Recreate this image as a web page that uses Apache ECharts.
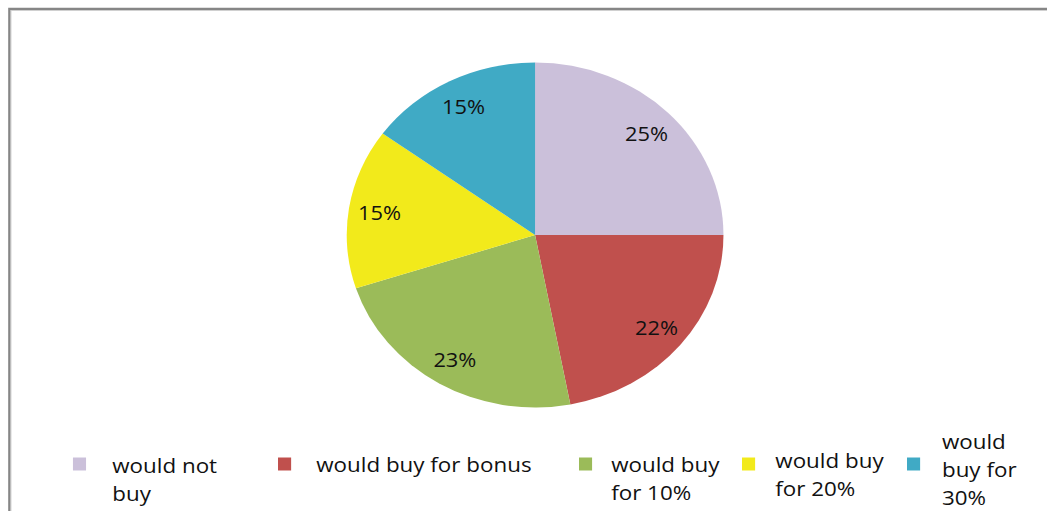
<!DOCTYPE html>
<html>
<head>
<meta charset="utf-8">
<script src="https://cdn.jsdelivr.net/npm/echarts@6/dist/echarts.min.js"></script>
<style>
  html, body { margin: 0; padding: 0; background: #ffffff; overflow: hidden; }
  /* the chart is drawn slightly wider than tall, so the pie is an ellipse */
  #chart { width: 959px; height: 511px; transform: scaleX(1.092); transform-origin: 0 0; }
</style>
</head>
<body>
<div id="chart"></div>
<script>
// Survey answers and their shares (percent)
const categories = ['would not buy', 'would buy for bonus', 'would buy for 10%', 'would buy for 20%', 'would buy for 30%'];
const shares = [25, 22, 23, 15, 15];
// Legend text as wrapped in the key
const legendLabels = ['would not\nbuy', 'would buy for bonus', 'would buy\nfor 10%', 'would buy\nfor 20%', 'would\nbuy for\n30%'];
const colors = ['#CBC0DA', '#C0504D', '#9BBB59', '#F2EA1B', '#40AAC5'];

// Legend layout: marker x, icon-text gap, downward shift of the text block
const legendX = [66.8, 254.6, 530.2, 679.5, 830.6];
const legendGap = [19, 18, 12.5, 13.5, 15];
const legendShift = [15, 0, 14, 10, 5];
const markerMid = 464;
const lineH = 28;

const FONT = '"Open Sans", "DejaVu Sans", sans-serif';

const chart = echarts.init(document.getElementById('chart'), null, { renderer: 'svg' });

const legends = categories.map((name, i) => {
  const lines = legendLabels[i].split('\n');
  const d = legendShift[i];
  // an empty spacer line on top pushes the centred text block down by d
  const text = (d > 0 ? '{pad| }\n' : '') + lines.map(l => '{t|' + l + '}').join('\n');
  const h = lines.length * lineH + (d > 0 ? 2 * d : 0);
  return {
    data: [name],
    left: legendX[i],
    top: markerMid - h / 2,
    orient: 'horizontal',
    itemWidth: 12,
    itemHeight: 13,
    icon: 'rect',
    selectedMode: false,
    padding: 0,
    formatter: () => text,
    textStyle: {
      fontFamily: FONT,
      fontSize: 20.5,
      color: '#111111',
      lineHeight: lineH,
      padding: [0, 0, 0, legendGap[i]],
      rich: {
        t: { fontFamily: FONT, fontSize: 20.5, color: '#111111', lineHeight: lineH },
        pad: { fontSize: 2, lineHeight: Math.max(2 * d, 1) }
      }
    }
  };
});

const sliceData = categories.map((name, i) => ({ name, value: shares[i], itemStyle: { color: colors[i] } }));
const labelData = categories.map((name, i) => ({ name, value: shares[i] }));

chart.setOption({
  backgroundColor: '#ffffff',
  animation: false,
  color: colors,
  legend: legends,
  graphic: [
    {
      type: 'rect', silent: true,
      shape: { x: 8.7, y: 9, width: 1200, height: 800 },
      style: { fill: 'none', stroke: '#868686', lineWidth: 2.4 }
    },
    {
      type: 'rect', silent: true,
      shape: { x: 10, y: 10.6, width: 1200, height: 800 },
      style: { fill: 'none', stroke: '#d0d0d0', lineWidth: 1 }
    }
  ],
  series: [
    {
      type: 'pie',
      center: [490, 235],
      radius: [0, 172.5],
      startAngle: 90,
      clockwise: true,
      silent: true,
      label: { show: false },
      labelLine: { show: false },
      itemStyle: { borderWidth: 0 },
      data: sliceData
    },
    {
      // transparent ring used only to place the value labels
      type: 'pie',
      center: [490, 235],
      radius: [110, 172.5],
      startAngle: 90,
      clockwise: true,
      silent: true,
      itemStyle: { color: 'rgba(0,0,0,0)', borderWidth: 0 },
      label: {
        show: true,
        position: 'inside',
        formatter: '{c}%',
        fontFamily: FONT,
        fontSize: 20,
        color: '#111111'
      },
      labelLine: { show: false },
      data: labelData
    }
  ]
});
</script>
</body>
</html>
